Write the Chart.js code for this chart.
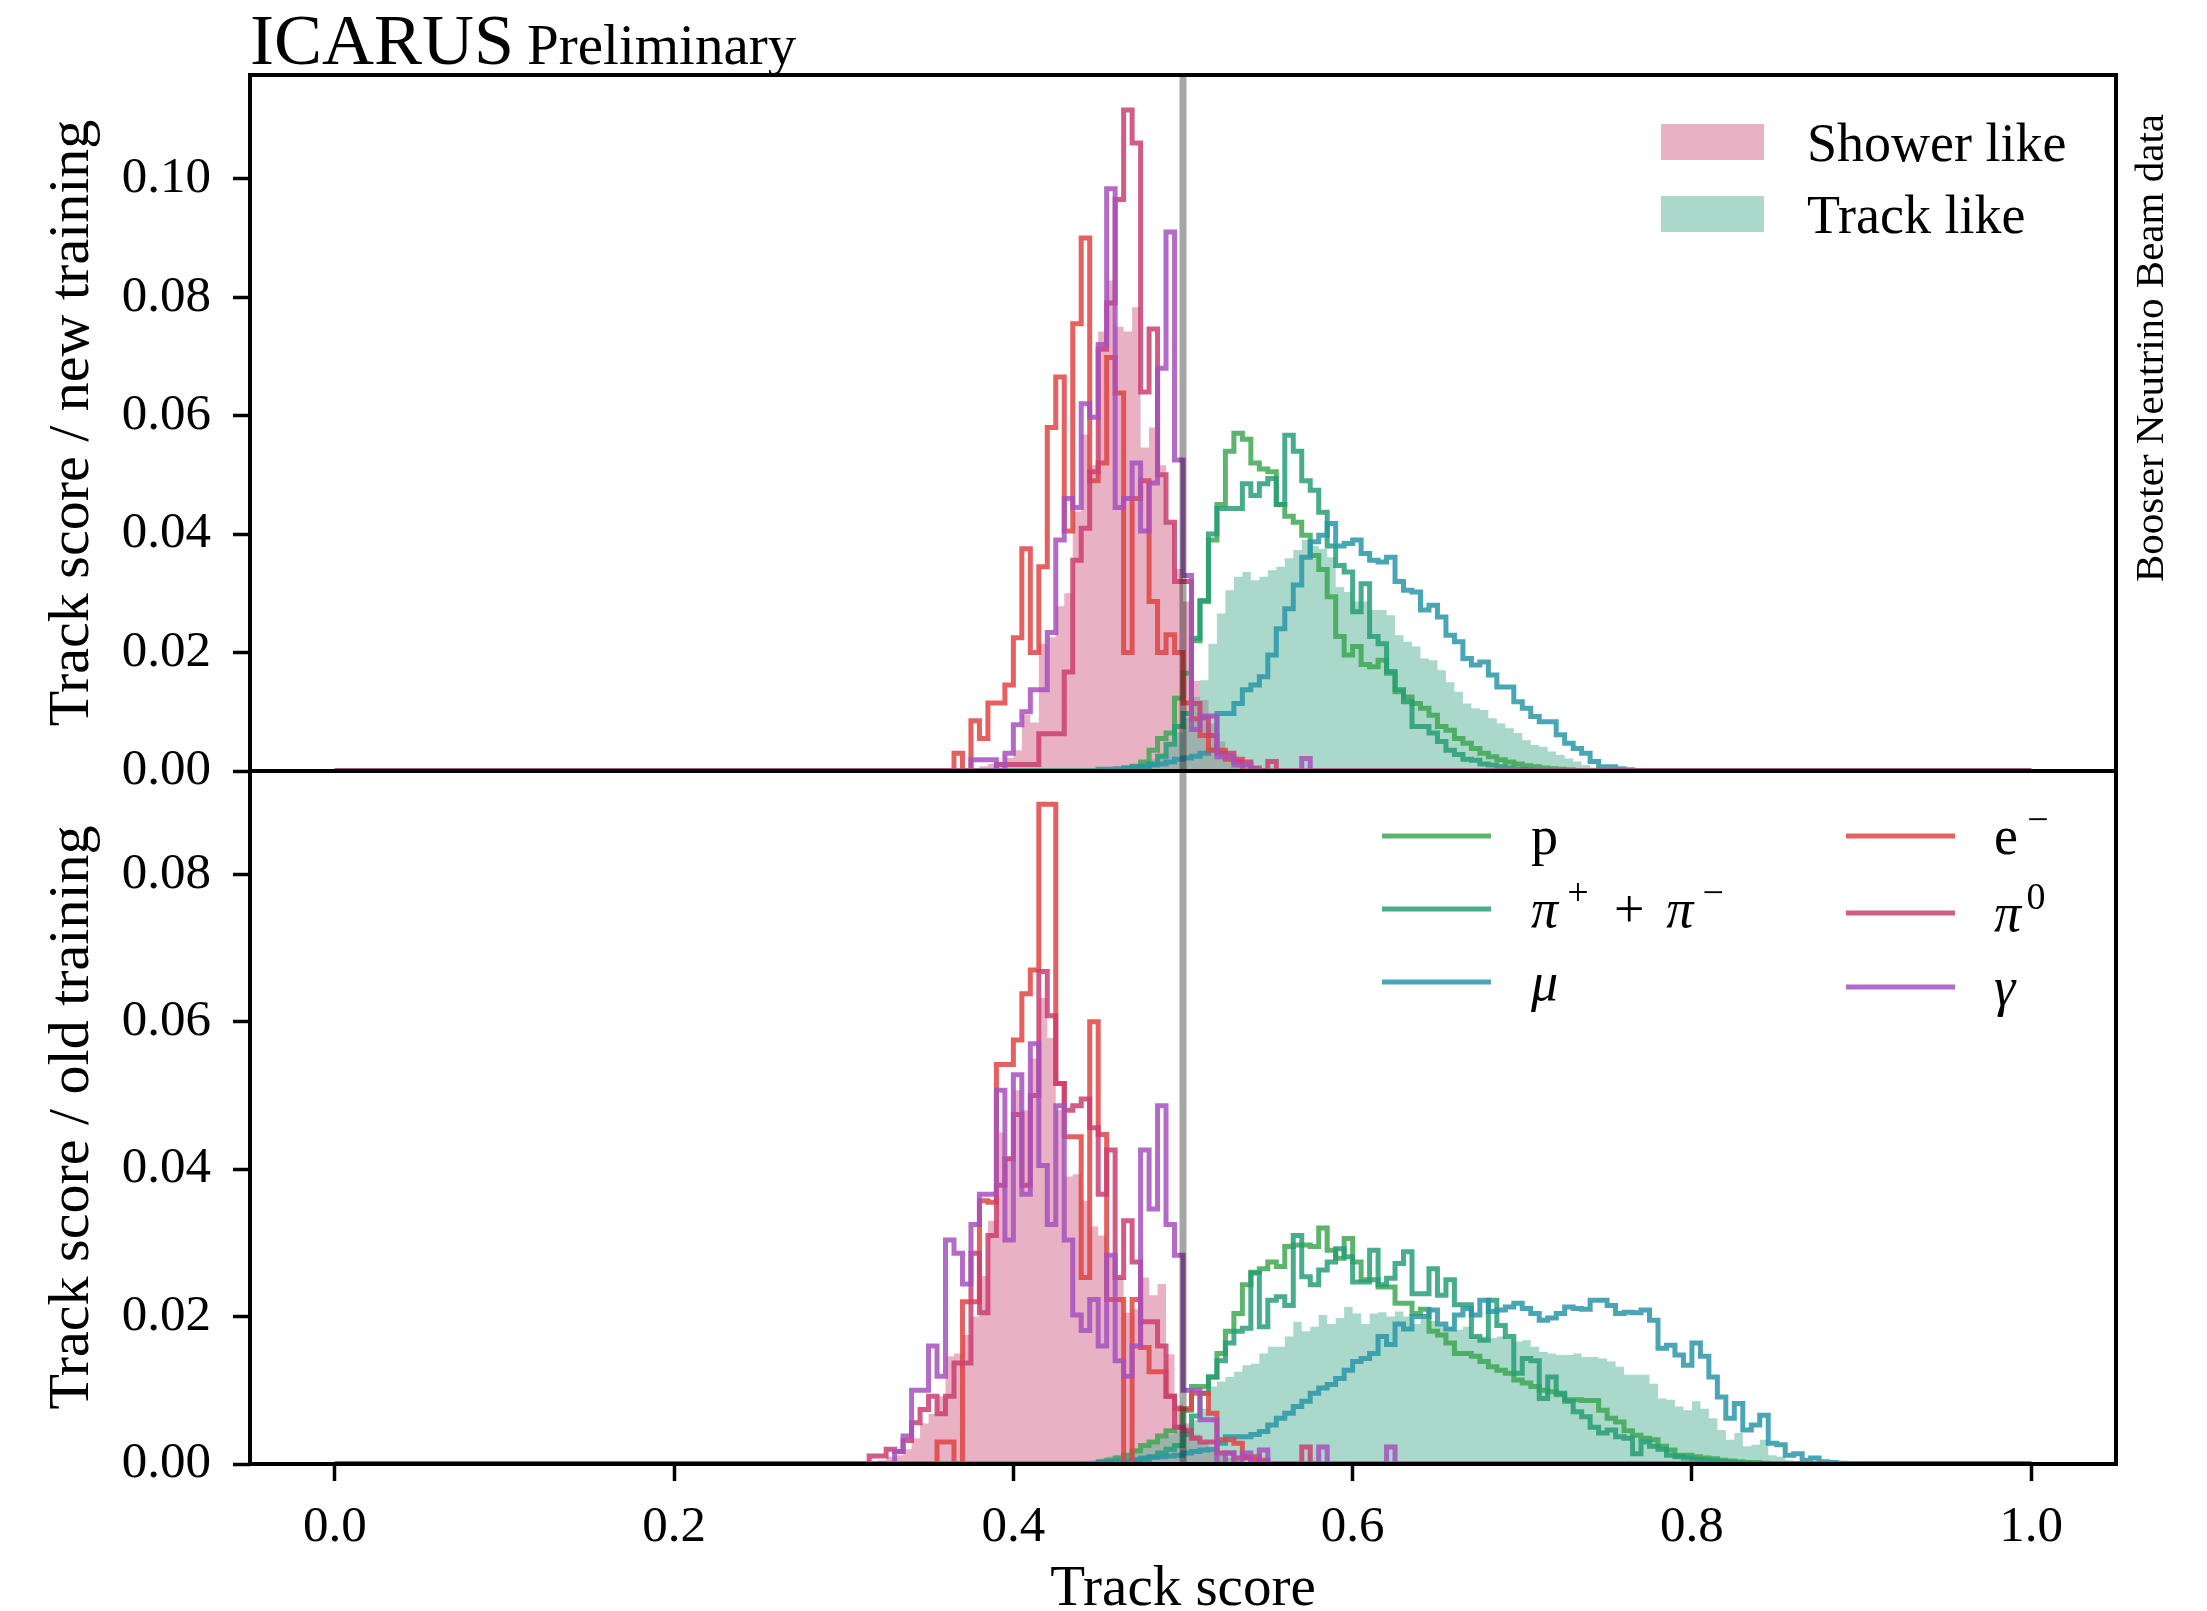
<!DOCTYPE html>
<html lang="en">
<head>
  <meta charset="UTF-8">
  <title>ICARUS Preliminary - Track score</title>
  <script src="https://cdn.jsdelivr.net/npm/chart.js"></script>
  <style>
    html, body { margin: 0; padding: 0; background: #fff; }
    #wrap { position: relative; width: 2207px; height: 1611px; overflow: hidden; background: #fff; }
    #wrap canvas { position: absolute; left: 0; top: 0; }
  </style>
</head>
<body>
  <div id="wrap">
    <canvas id="topPanel" width="2207" height="1611"></canvas>
    <canvas id="bottomPanel" width="2207" height="1611"></canvas>
  </div>

  <script>
    // ---- data (histograms with 0.005 wide bins on [0, 1]) ----
    const binWidth = 0.005;
    const nBins = 200;
    const cutValue = 0.5;

    const xTicks = [0.0, 0.2, 0.4, 0.6, 0.8, 1.0];
    const topYTicks = [0.00, 0.02, 0.04, 0.06, 0.08, 0.10];
    const bottomYTicks = [0.00, 0.02, 0.04, 0.06, 0.08];

    const figTitle = 'ICARUS';
    const figSubtitle = 'Preliminary';
    const sideLabel = 'Booster Neutrino Beam data';
    const xTitle = 'Track score';
    const topYTitle = 'Track score / new training';
    const bottomYTitle = 'Track score / old training';

    const fillLabels = ['Shower like', 'Track like'];
    const particleLabels = ['p', 'π^+ + π^−', 'μ', 'e^−', 'π^0', 'γ'];

    // top panel: new training. each list starts at the bin edge given in *From
    const topShowerFrom = 0.380;
    const topShower = [0.0005, 0.0008, 0.0012, 0.0015, 0.0022, 0.0035, 0.0095, 0.0082, 0.0215, 0.0226,
      0.0278, 0.0300, 0.0438, 0.0568, 0.0516, 0.0742, 0.0828, 0.0750, 0.0742, 0.0783,
      0.0546, 0.0580, 0.0516, 0.0420, 0.0341, 0.0286, 0.0152, 0.0120, 0.0080, 0.0050,
      0.0030, 0.0020, 0.0012, 0.0008, 0.0005, 0.0003];
    const topTrackFrom = 0.470;
    const topTrack = [0.0005, 0.0008, 0.0012, 0.0020, 0.0030, 0.0045, 0.0065, 0.0090, 0.0125, 0.0153,
      0.0215, 0.0266, 0.0305, 0.0328, 0.0336, 0.0322, 0.0328, 0.0339, 0.0345, 0.0359,
      0.0373, 0.0390, 0.0380, 0.0375, 0.0361, 0.0310, 0.0302, 0.0286, 0.0286, 0.0272,
      0.0272, 0.0263, 0.0229, 0.0218, 0.0210, 0.0190, 0.0187, 0.0170, 0.0150, 0.0134,
      0.0114, 0.0106, 0.0103, 0.0089, 0.0080, 0.0072, 0.0064, 0.0052, 0.0044, 0.0041,
      0.0033, 0.0027, 0.0021, 0.0016, 0.0010, 0.0006, 0.0004, 0.0002];
    const topPFrom = 0.470;
    const topP = [0.0005, 0.0008, 0.0015, 0.0035, 0.0055, 0.0064, 0.0123, 0.0165, 0.0220, 0.0286,
      0.0390, 0.0450, 0.0540, 0.0570, 0.0560, 0.0520, 0.0510, 0.0505, 0.0450, 0.0430,
      0.0420, 0.0398, 0.0364, 0.0340, 0.0294, 0.0227, 0.0196, 0.0210, 0.0180, 0.0176,
      0.0187, 0.0165, 0.0134, 0.0125, 0.0114, 0.0106, 0.0094, 0.0075, 0.0069, 0.0055,
      0.0047, 0.0038, 0.0030, 0.0024, 0.0019, 0.0015, 0.0012, 0.0009, 0.0007, 0.0005,
      0.0004, 0.0003, 0.0002, 0.0001];
    const topPiFrom = 0.475;
    const topPi = [0.0004, 0.0006, 0.0012, 0.0025, 0.0045, 0.0075, 0.0097, 0.0224, 0.0288, 0.0400,
      0.0443, 0.0443, 0.0443, 0.0485, 0.0465, 0.0485, 0.0494, 0.0450, 0.0567, 0.0540,
      0.0490, 0.0474, 0.0437, 0.0380, 0.0347, 0.0336, 0.0269, 0.0316, 0.0227, 0.0215,
      0.0168, 0.0137, 0.0117, 0.0075, 0.0075, 0.0064, 0.0050, 0.0035, 0.0028, 0.0020,
      0.0018, 0.0012, 0.0010, 0.0007, 0.0005, 0.0003, 0.0002];
    const topMuFrom = 0.455;
    const topMu = [0.0003, 0.0003, 0.0004, 0.0005, 0.0007, 0.0008, 0.0010, 0.0012, 0.0015, 0.0020,
      0.0022, 0.0025, 0.0030, 0.0035, 0.0097, 0.0097, 0.0114, 0.0137, 0.0145, 0.0159,
      0.0196, 0.0240, 0.0274, 0.0314, 0.0361, 0.0387, 0.0398, 0.0418, 0.0380, 0.0384,
      0.0390, 0.0367, 0.0356, 0.0353, 0.0361, 0.0320, 0.0305, 0.0302, 0.0272, 0.0280,
      0.0260, 0.0229, 0.0218, 0.0190, 0.0179, 0.0184, 0.0162, 0.0142, 0.0142, 0.0117,
      0.0106, 0.0092, 0.0083, 0.0083, 0.0061, 0.0047, 0.0038, 0.0030, 0.0016, 0.0007,
      0.0007, 0.0004, 0.0002];
    const topEFrom = 0.370;
    const topE = [0.0030, 0.0000, 0.0085, 0.0055, 0.0115, 0.0115, 0.0145, 0.0225, 0.0375, 0.0200,
      0.0345, 0.0580, 0.0665, 0.0405, 0.0755, 0.0900, 0.0490, 0.0520, 0.0698, 0.0638,
      0.0200, 0.0460, 0.0490, 0.0286, 0.0200, 0.0230, 0.0200, 0.0115, 0.0088, 0.0060,
      0.0035, 0.0035, 0.0020, 0.0020];
    const topPi0From = 0.395;
    const topPi0 = [0.0011, 0.0011, 0.0011, 0.0011, 0.0011, 0.0063, 0.0063, 0.0063, 0.0167, 0.0356,
      0.0410, 0.0505, 0.0712, 0.0790, 0.0965, 0.1116, 0.1060, 0.0640, 0.0746, 0.0500,
      0.0420, 0.0320, 0.0320, 0.0114, 0.0090, 0.0060, 0.0030, 0.0030, 0.0015, 0.0015,
      0.0005, 0.0000, 0.0016];
    const topGammaFrom = 0.380;
    const topGamma = [0.0019, 0.0019, 0.0019, 0.0000, 0.0030, 0.0078, 0.0100, 0.0137, 0.0137, 0.0234,
      0.0390, 0.0460, 0.0445, 0.0620, 0.0597, 0.0720, 0.0983, 0.0445, 0.0460, 0.0520,
      0.0405, 0.0486, 0.0680, 0.0910, 0.0525, 0.0330, 0.0070, 0.0093, 0.0093, 0.0024,
      0.0024, 0.0010, 0.0010, 0.0000, 0.0000, 0.0000, 0.0000, 0.0000, 0.0000, 0.0021];

    // bottom panel: old training
    const botShowerFrom = 0.320;
    const botShower = [0.0003, 0.0005, 0.0010, 0.0012, 0.0020, 0.0035, 0.0055, 0.0068, 0.0092, 0.0146,
      0.0150, 0.0175, 0.0200, 0.0255, 0.0330, 0.0450, 0.0417, 0.0507, 0.0480, 0.0550,
      0.0632, 0.0578, 0.0480, 0.0390, 0.0393, 0.0357, 0.0322, 0.0310, 0.0280, 0.0253,
      0.0205, 0.0210, 0.0253, 0.0229, 0.0244, 0.0149, 0.0080, 0.0055, 0.0040, 0.0030,
      0.0020, 0.0012, 0.0008, 0.0005, 0.0003, 0.0002];
    const botTrackFrom = 0.440;
    const botTrack = [0.0003, 0.0004, 0.0005, 0.0007, 0.0010, 0.0012, 0.0015, 0.0020, 0.0025, 0.0030,
      0.0035, 0.0040, 0.0045, 0.0050, 0.0060, 0.0075, 0.0105, 0.0112, 0.0118, 0.0125,
      0.0134, 0.0136, 0.0150, 0.0159, 0.0159, 0.0173, 0.0193, 0.0180, 0.0186, 0.0202,
      0.0190, 0.0198, 0.0213, 0.0204, 0.0190, 0.0204, 0.0206, 0.0200, 0.0207, 0.0200,
      0.0190, 0.0198, 0.0194, 0.0188, 0.0185, 0.0182, 0.0186, 0.0173, 0.0173, 0.0171,
      0.0173, 0.0170, 0.0166, 0.0168, 0.0159, 0.0152, 0.0150, 0.0148, 0.0148, 0.0150,
      0.0145, 0.0145, 0.0143, 0.0139, 0.0132, 0.0121, 0.0121, 0.0121, 0.0109, 0.0089,
      0.0087, 0.0078, 0.0073, 0.0085, 0.0075, 0.0062, 0.0046, 0.0033, 0.0042, 0.0024,
      0.0026, 0.0033, 0.0012, 0.0010, 0.0005, 0.0003, 0.0003, 0.0002, 0.0001];
    const botPFrom = 0.455;
    const botP = [0.0003, 0.0005, 0.0008, 0.0012, 0.0018, 0.0025, 0.0030, 0.0038, 0.0045, 0.0050,
      0.0073, 0.0105, 0.0105, 0.0118, 0.0150, 0.0180, 0.0204, 0.0243, 0.0260, 0.0265,
      0.0274, 0.0268, 0.0295, 0.0297, 0.0297, 0.0295, 0.0320, 0.0290, 0.0279, 0.0306,
      0.0274, 0.0250, 0.0250, 0.0240, 0.0240, 0.0218, 0.0218, 0.0204, 0.0210, 0.0180,
      0.0175, 0.0164, 0.0150, 0.0150, 0.0146, 0.0139, 0.0132, 0.0127, 0.0123, 0.0114,
      0.0110, 0.0105, 0.0100, 0.0098, 0.0094, 0.0087, 0.0087, 0.0086, 0.0086, 0.0073,
      0.0062, 0.0057, 0.0045, 0.0039, 0.0035, 0.0033, 0.0024, 0.0019, 0.0012, 0.0012,
      0.0010, 0.0008, 0.0007, 0.0005, 0.0004, 0.0003, 0.0002, 0.0002, 0.0001];
    const botPiFrom = 0.475;
    const botPi = [0.0004, 0.0006, 0.0010, 0.0015, 0.0020, 0.0025, 0.0040, 0.0065, 0.0096, 0.0118,
      0.0140, 0.0164, 0.0180, 0.0184, 0.0259, 0.0186, 0.0222, 0.0227, 0.0215, 0.0310,
      0.0254, 0.0243, 0.0263, 0.0274, 0.0292, 0.0281, 0.0247, 0.0247, 0.0290, 0.0243,
      0.0252, 0.0272, 0.0288, 0.0231, 0.0231, 0.0265, 0.0229, 0.0250, 0.0216, 0.0216,
      0.0173, 0.0168, 0.0222, 0.0188, 0.0173, 0.0123, 0.0143, 0.0140, 0.0089, 0.0118,
      0.0096, 0.0085, 0.0071, 0.0064, 0.0050, 0.0042, 0.0046, 0.0037, 0.0035, 0.0014,
      0.0030, 0.0024, 0.0020, 0.0012, 0.0010, 0.0008, 0.0006, 0.0005, 0.0004, 0.0003,
      0.0002, 0.0001];
    const botMuFrom = 0.455;
    const botMu = [0.0002, 0.0003, 0.0004, 0.0005, 0.0006, 0.0008, 0.0009, 0.0010, 0.0011, 0.0012,
      0.0015, 0.0017, 0.0019, 0.0020, 0.0028, 0.0037, 0.0037, 0.0037, 0.0040, 0.0044,
      0.0053, 0.0062, 0.0069, 0.0078, 0.0085, 0.0096, 0.0103, 0.0108, 0.0116, 0.0127,
      0.0139, 0.0143, 0.0150, 0.0173, 0.0162, 0.0190, 0.0183, 0.0200, 0.0200, 0.0209,
      0.0190, 0.0183, 0.0202, 0.0211, 0.0202, 0.0222, 0.0207, 0.0209, 0.0213, 0.0218,
      0.0211, 0.0204, 0.0195, 0.0198, 0.0204, 0.0213, 0.0211, 0.0210, 0.0222, 0.0222,
      0.0215, 0.0204, 0.0206, 0.0205, 0.0209, 0.0195, 0.0157, 0.0161, 0.0148, 0.0134,
      0.0164, 0.0146, 0.0118, 0.0091, 0.0062, 0.0082, 0.0046, 0.0053, 0.0066, 0.0028,
      0.0026, 0.0012, 0.0014, 0.0005, 0.0008, 0.0003, 0.0002, 0.0001];
    const botEFrom = 0.360;
    const botE = [0.0030, 0.0030, 0.0000, 0.0220, 0.0220, 0.0357, 0.0355, 0.0542, 0.0542, 0.0575,
      0.0638, 0.0670, 0.0895, 0.0895, 0.0516, 0.0444, 0.0444, 0.0253, 0.0600, 0.0447,
      0.0223, 0.0223, 0.0000, 0.0223, 0.0158, 0.0125, 0.0125, 0.0092, 0.0075, 0.0075,
      0.0096, 0.0096, 0.0069, 0.0033, 0.0033, 0.0028, 0.0010, 0.0010];
    const botPi0From = 0.320;
    const botPi0 = [0.0011, 0.0011, 0.0020, 0.0017, 0.0032, 0.0056, 0.0074, 0.0092, 0.0068, 0.0092,
      0.0137, 0.0137, 0.0286, 0.0205, 0.0310, 0.0378, 0.0414, 0.0474, 0.0378, 0.0500,
      0.0668, 0.0608, 0.0516, 0.0480, 0.0486, 0.0495, 0.0456, 0.0366, 0.0426, 0.0253,
      0.0330, 0.0274, 0.0193, 0.0193, 0.0160, 0.0092, 0.0050, 0.0045, 0.0035, 0.0030,
      0.0030, 0.0015, 0.0015, 0.0008, 0.0008, 0.0005, 0.0005, 0.0000, 0.0000, 0.0000,
      0.0000, 0.0023];
    const botGammaFrom = 0.335;
    const botGamma = [0.0017, 0.0038, 0.0100, 0.0100, 0.0160, 0.0119, 0.0304, 0.0286, 0.0244, 0.0325,
      0.0366, 0.0366, 0.0507, 0.0304, 0.0528, 0.0366, 0.0570, 0.0405, 0.0325, 0.0486,
      0.0304, 0.0202, 0.0181, 0.0223, 0.0160, 0.0283, 0.0140, 0.0119, 0.0160, 0.0426,
      0.0346, 0.0486, 0.0325, 0.0283, 0.0100, 0.0100, 0.0060, 0.0060, 0.0000, 0.0015,
      0.0000, 0.0015, 0.0000, 0.0019, 0.0000, 0.0000, 0.0000, 0.0000, 0.0000, 0.0000,
      0.0023, 0.0000, 0.0000, 0.0000, 0.0000, 0.0000, 0.0000, 0.0000, 0.0023];

    // ---- style ----
    const serif = "'Liberation Serif', 'DejaVu Serif', serif";
    const colShower = 'rgba(209, 99, 137, 0.5)';
    const colTrack = 'rgba(85, 177, 149, 0.5)';
    const particleColors = [
      'rgba(64, 167, 84, 0.85)',   // p
      'rgba(39, 159, 117, 0.85)',  // pi+ + pi-
      'rgba(42, 150, 168, 0.85)',  // mu
      'rgba(225, 68, 67, 0.85)',   // e-
      'rgba(203, 64, 113, 0.85)',  // pi0
      'rgba(166, 81, 189, 0.85)'   // gamma
    ];
    const xMin = -0.05, xMax = 1.05;
    const topYMax = 0.1175, bottomYMax = 0.094;

    Chart.defaults.font.family = serif;
    Chart.defaults.color = '#000';

    // spread a short list onto the full set of bins, then turn it into step points
    function stepPoints(from, values) {
      const bins = new Array(nBins).fill(0);
      const first = Math.round(from / binWidth);
      values.forEach((v, k) => { bins[first + k] = v; });
      const pts = bins.map((v, i) => ({ x: i * binWidth, y: v }));
      pts.push({ x: nBins * binWidth, y: 0 });
      return pts;
    }

    function fillSet(label, from, values, color, order) {
      return {
        label, data: stepPoints(from, values), stepped: 'after', fill: 'origin',
        backgroundColor: color, borderColor: 'rgba(0,0,0,0)', borderWidth: 0,
        pointRadius: 0, order
      };
    }

    function lineSet(i, from, values) {
      return {
        label: particleLabels[i], data: stepPoints(from, values), stepped: 'after', fill: false,
        borderColor: particleColors[i], borderWidth: 5, borderJoinStyle: 'miter',
        pointRadius: 0, order: 6 - i
      };
    }

    function yAxis(title, yMax, tickValues) {
      return {
        type: 'linear', position: 'left', min: 0, max: yMax,
        border: { display: false },
        grid: { drawOnChartArea: false, drawTicks: true, tickLength: 17, tickWidth: 3.5, tickColor: '#000' },
        ticks: { padding: 22, font: { size: 51 }, color: '#000', callback: v => Number(v).toFixed(2) },
        afterBuildTicks: s => { s.ticks = tickValues.map(v => ({ value: v })); },
        afterFit: s => { s.width = 250; },
        title: { display: true, text: title, color: '#000', font: { size: 58 }, padding: { top: 38, bottom: 0 } }
      };
    }

    // draws the cut line, the box around the panel and, if given, extra text
    function panelDecor(extra) {
      return {
        id: 'panelDecor',
        afterDatasetsDraw(chart) {
          const { ctx, chartArea: a, scales } = chart;
          const x = scales.x.getPixelForValue(cutValue);
          ctx.save();
          ctx.strokeStyle = 'rgba(0, 0, 0, 0.35)';
          ctx.lineWidth = 7;
          ctx.beginPath();
          ctx.moveTo(x, a.top);
          ctx.lineTo(x, a.bottom);
          ctx.stroke();
          ctx.restore();
        },
        afterDraw(chart) {
          const { ctx, chartArea: a } = chart;
          ctx.save();
          ctx.strokeStyle = '#000';
          ctx.lineWidth = 4;
          ctx.strokeRect(a.left, a.top, a.right - a.left, a.bottom - a.top);
          ctx.restore();
          if (extra) extra(chart);
        }
      };
    }

    // text with '^' marking a one-character superscript, greek in italic
    function drawRich(ctx, text, x, baseline, size) {
      let cx = x;
      for (let i = 0; i < text.length; i++) {
        let ch = text[i];
        let sup = false;
        if (ch === '^') { sup = true; ch = text[++i]; }
        if (ch === ' ') { cx += size * 0.3; continue; }
        const italic = /[πμγ]/.test(ch);
        const sign = /[+−]/.test(ch);
        const s = sup ? Math.round(size * 0.7) : size;
        ctx.font = (italic ? 'italic ' : '') + s + 'px ' + serif;
        if (sup) cx += size * 0.1;
        if (sign) cx += s * 0.1;
        ctx.fillText(ch, cx, sup ? baseline - size * 0.4 : baseline);
        cx += ctx.measureText(ch).width + (sign ? s * 0.1 : 0);
      }
    }

    function topExtras(chart) {
      const ctx = chart.ctx;
      ctx.save();
      ctx.fillStyle = '#000';
      ctx.textAlign = 'left';
      ctx.textBaseline = 'alphabetic';
      // title
      ctx.font = '72px ' + serif;
      ctx.fillText(figTitle, 250, 64);
      const w = ctx.measureText(figTitle).width;
      ctx.font = '57px ' + serif;
      ctx.fillText(figSubtitle, 250 + w + 13, 64);
      // legend with filled patches
      const rows = [142, 214];
      rows.forEach((y, i) => {
        ctx.fillStyle = chart.data.datasets[i].backgroundColor;
        ctx.fillRect(1661, y - 18, 103, 36);
        ctx.fillStyle = '#000';
        ctx.font = '54px ' + serif;
        ctx.fillText(chart.data.datasets[i].label, 1807, y + 19);
      });
      // side label
      ctx.translate(2152, 348);
      ctx.rotate(-Math.PI / 2);
      ctx.textAlign = 'center';
      ctx.textBaseline = 'middle';
      ctx.font = '41px ' + serif;
      ctx.fillText(sideLabel, 0, 0);
      ctx.restore();
    }

    function bottomExtras(chart) {
      const ctx = chart.ctx;
      const cols = [{ line: 1382, text: 1531, rows: [836, 909, 982] },
                    { line: 1846, text: 1994, rows: [836, 913, 987] }];
      ctx.save();
      ctx.textAlign = 'left';
      ctx.textBaseline = 'alphabetic';
      cols.forEach((c, ci) => {
        c.rows.forEach((y, ri) => {
          const ds = chart.data.datasets[2 + ci * 3 + ri];
          ctx.strokeStyle = ds.borderColor;
          ctx.lineWidth = 5;
          ctx.beginPath();
          ctx.moveTo(c.line, y);
          ctx.lineTo(c.line + 109, y);
          ctx.stroke();
          ctx.fillStyle = '#000';
          drawRich(ctx, ds.label, c.text, y + 18, 54);
        });
      });
      ctx.restore();
    }

    function panelDatasets(sh, tr, lines) {
      return [
        fillSet(fillLabels[0], sh[0], sh[1], colShower, 9),
        fillSet(fillLabels[1], tr[0], tr[1], colTrack, 8),
        ...lines.map((l, i) => lineSet(i, l[0], l[1]))
      ];
    }

    const baseOptions = {
      responsive: false,
      animation: false,
      devicePixelRatio: 1,
      events: [],
      plugins: { legend: { display: false }, tooltip: { enabled: false } }
    };

    new Chart(document.getElementById('topPanel'), {
      type: 'line',
      data: {
        datasets: panelDatasets([topShowerFrom, topShower], [topTrackFrom, topTrack], [
          [topPFrom, topP], [topPiFrom, topPi], [topMuFrom, topMu],
          [topEFrom, topE], [topPi0From, topPi0], [topGammaFrom, topGamma]
        ])
      },
      options: {
        ...baseOptions,
        layout: { padding: { left: 0, right: 91, top: 75, bottom: 840 } },
        scales: {
          x: { type: 'linear', min: xMin, max: xMax, display: false },
          y: yAxis(topYTitle, topYMax, topYTicks)
        }
      },
      plugins: [panelDecor(topExtras)]
    });

    new Chart(document.getElementById('bottomPanel'), {
      type: 'line',
      data: {
        datasets: panelDatasets([botShowerFrom, botShower], [botTrackFrom, botTrack], [
          [botPFrom, botP], [botPiFrom, botPi], [botMuFrom, botMu],
          [botEFrom, botE], [botPi0From, botPi0], [botGammaFrom, botGamma]
        ])
      },
      options: {
        ...baseOptions,
        layout: { padding: { left: 0, right: 91, top: 771, bottom: 0 } },
        scales: {
          x: {
            type: 'linear', position: 'bottom', min: xMin, max: xMax,
            border: { display: false },
            grid: { drawOnChartArea: false, drawTicks: true, tickLength: 17, tickWidth: 3.5, tickColor: '#000' },
            ticks: { padding: 16, maxRotation: 0, font: { size: 51 }, color: '#000', callback: v => Number(v).toFixed(1) },
            afterBuildTicks: s => { s.ticks = xTicks.map(v => ({ value: v })); },
            afterFit: s => { s.height = 147; },
            title: { display: true, text: xTitle, color: '#000', font: { size: 57, lineHeight: 0.75 }, padding: { top: 0, bottom: 0 } }
          },
          y: yAxis(bottomYTitle, bottomYMax, bottomYTicks)
        }
      },
      plugins: [panelDecor(bottomExtras)]
    });
  </script>
</body>
</html>
